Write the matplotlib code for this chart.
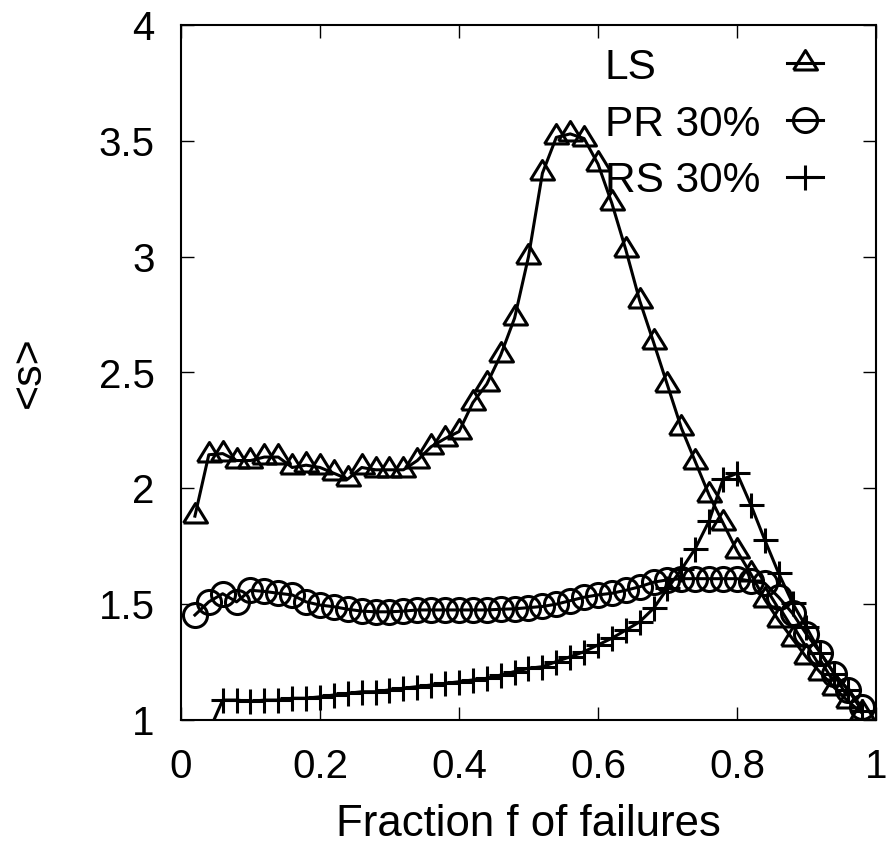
import numpy as np
import matplotlib
matplotlib.use("Agg")
import matplotlib.pyplot as plt
from matplotlib.ticker import FormatStrFormatter

plt.rcParams['font.family'] = ['Liberation Sans', 'DejaVu Sans']

# fraction of failures
f_ls = np.arange(1, 50) * 0.02
f_pr = np.arange(1, 50) * 0.02
f_rs = np.arange(2, 50) * 0.02

ls = [1.88, 2.145, 2.15, 2.12, 2.12, 2.135, 2.135, 2.09, 2.10, 2.09,
      2.065, 2.04, 2.09, 2.08, 2.08, 2.08, 2.12, 2.18, 2.215, 2.245,
      2.37, 2.45, 2.575, 2.735, 3.0, 3.36, 3.515, 3.53, 3.51, 3.40,
      3.23, 3.03, 2.81, 2.63, 2.445, 2.26, 2.115, 1.97, 1.85, 1.73,
      1.63, 1.52, 1.43, 1.35, 1.27, 1.205, 1.14, 1.08, 1.03]

pr = [1.453, 1.51, 1.545, 1.51, 1.56, 1.555, 1.547, 1.54, 1.51, 1.496,
      1.489, 1.478, 1.47, 1.467, 1.467, 1.47, 1.475, 1.475, 1.475, 1.475,
      1.475, 1.475, 1.478, 1.48, 1.485, 1.49, 1.50, 1.515, 1.53, 1.54,
      1.547, 1.56, 1.575, 1.595, 1.605, 1.61, 1.61, 1.61, 1.61, 1.61,
      1.60, 1.59, 1.53, 1.46, 1.37, 1.29, 1.20, 1.13, 1.055]

rs = [0.95, 1.086, 1.086, 1.08, 1.086, 1.086, 1.094, 1.094, 1.10, 1.108,
      1.115, 1.122, 1.122, 1.13, 1.137, 1.144, 1.151, 1.158, 1.165, 1.173,
      1.18, 1.194, 1.209, 1.223, 1.23, 1.252, 1.273, 1.295, 1.324, 1.353,
      1.388, 1.424, 1.482, 1.568, 1.65, 1.74, 1.86, 2.04, 2.065, 1.928,
      1.777, 1.633, 1.504, 1.40, 1.29, 1.20, 1.13, 1.04]

labels = ['LS', 'PR 30%', 'RS 30%']

# gnuplot style triangle, centred on its centroid
tri = [(-12, -6.5), (12, -6.5), (0, 13), (-12, -6.5)]
lw = 2.2
styles = [dict(marker=tri, ms=18.7, mew=lw, mfc='none'),
          dict(marker='o', ms=17.3, mew=lw, mfc='none'),
          dict(marker='+', ms=18, mew=lw)]

fig = plt.figure(figsize=(8.87, 8.46), dpi=100)
ax = fig.add_axes([181/887, 1-720/846, 695/887, 695/846])

# key drawn gnuplot-like: text left aligned, sample on the right
key_line_y = [0.945, 0.8633, 0.7813]
key_text_y = [0.9216, 0.8403, 0.759]

for i, (x, y) in enumerate([(f_ls, ls), (f_pr, pr), (f_rs, rs)]):
    ax.plot(x, y, color='black', lw=lw, **styles[i])
    ax.plot([0.872, 0.8978, 0.9237], [key_line_y[i]]*3, color='black', lw=lw,
            transform=ax.transAxes, markevery=[1], clip_on=False, **styles[i])
    ax.text(0.610, key_text_y[i], labels[i], transform=ax.transAxes,
            fontsize=30.5, va='baseline', ha='left')

ax.set_xlim(0, 1)
ax.set_ylim(1, 4)
ax.set_xticks([0, 0.2, 0.4, 0.6, 0.8, 1])
ax.set_yticks([1, 1.5, 2, 2.5, 3, 3.5, 4])
ax.xaxis.set_major_formatter(FormatStrFormatter('%g'))
ax.yaxis.set_major_formatter(FormatStrFormatter('%g'))
ax.tick_params(direction='in', length=9.4, width=1, labelsize=29,
               top=True, right=True)
ax.tick_params(axis='x', pad=20)
ax.tick_params(axis='y', pad=19)
for s in ax.spines.values():
    s.set_linewidth(1.5)

ax.set_xlabel('Fraction f of failures', fontsize=31.5)
ax.set_ylabel('<s>', fontsize=31)
ax.xaxis.set_label_coords(0.5, -0.121)
ax.yaxis.set_label_coords(-0.19, 0.5)

fig.savefig('out.png', dpi=100)
